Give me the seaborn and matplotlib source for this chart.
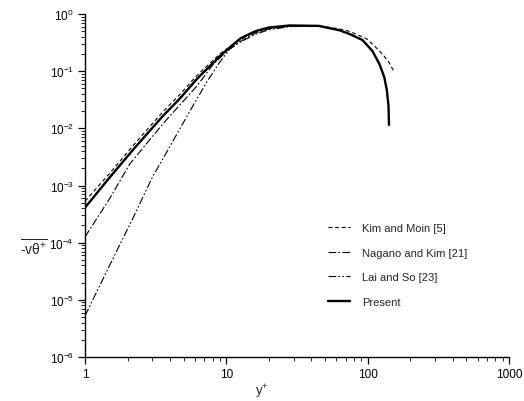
import matplotlib
matplotlib.use("Agg")
import matplotlib.pyplot as plt
import seaborn as sns
import pandas as pd
from matplotlib.ticker import LogLocator, NullFormatter, FixedLocator

# Turbulent heat flux -v'theta'+ versus wall distance y+
present_y = [1, 1.5, 2.22, 3.56, 4.68, 6.19, 9.0, 12.5, 16, 20, 28, 45, 63, 74, 92, 108, 121, 131, 137, 140.5, 141.5]
present_v = [4.1e-4, 1.4e-3, 4.4e-3, 0.0165, 0.033, 0.073, 0.184, 0.37, 0.50, 0.58, 0.63, 0.62, 0.52, 0.45,
             0.35, 0.225, 0.134, 0.079, 0.045, 0.024, 0.0115]

kim_moin_y = [1, 1.5, 2.22, 3.56, 4.68, 6.19, 9.0, 12.5, 16, 20, 28, 45, 63, 74, 98, 111, 127, 141, 154]
kim_moin_v = [5.3e-4, 1.65e-3, 5.2e-3, 0.0195, 0.039, 0.084, 0.20, 0.36, 0.48, 0.56, 0.62, 0.62, 0.55, 0.50,
              0.37, 0.28, 0.20, 0.145, 0.097]

nagano_kim_y = [1, 1.5, 2.08, 3.56, 6.19, 8.0, 10.1, 12.5, 16, 20, 28, 45, 63, 74, 92, 108, 121, 131, 137, 140.5]
nagano_kim_v = [1.26e-4, 6.0e-4, 2.4e-3, 0.012, 0.055, 0.128, 0.225, 0.33, 0.46, 0.55, 0.61, 0.62, 0.52, 0.45,
                0.35, 0.225, 0.134, 0.079, 0.045, 0.024]

lai_so_y = [1, 1.5, 2.08, 3.03, 3.8, 4.69, 5.8, 7.28, 9.0, 10.6, 12.5, 16, 20, 28, 45, 63, 74, 92, 108, 121, 131, 137]
lai_so_v = [5.25e-6, 4.1e-5, 2.1e-4, 1.47e-3, 3.9e-3, 9.8e-3, 0.0247, 0.065, 0.145, 0.245, 0.32, 0.44, 0.53, 0.60,
            0.62, 0.52, 0.45, 0.35, 0.225, 0.134, 0.079, 0.045]

series = [
    ("Kim and Moin [5]", kim_moin_y, kim_moin_v),
    ("Nagano and Kim [21]", nagano_kim_y, nagano_kim_v),
    ("Lai and So [23]", lai_so_y, lai_so_v),
    ("Present", present_y, present_v),
]
frames = [pd.DataFrame({"y+": y, "vt": v, "source": name}) for name, y, v in series]
df = pd.concat(frames, ignore_index=True)

sns.set_style("ticks")
plt.rcParams["font.family"] = ["Liberation Sans", "DejaVu Sans"]
plt.rcParams["mathtext.fontset"] = "custom"
plt.rcParams["mathtext.rm"] = "Liberation Sans"
plt.rcParams["mathtext.it"] = "Liberation Sans"
plt.rcParams["axes.unicode_minus"] = False

fig = plt.figure(figsize=(5.24, 4.02), dpi=100)
ax = fig.add_axes([85 / 524, 1 - 358 / 402, 424 / 524, 343 / 402])

styles = {
    "Kim and Moin [5]": dict(dashes=(3.5, 2.5), lw=0.8),
    "Nagano and Kim [21]": dict(dashes=(7, 2, 1.5, 2), lw=0.8),
    "Lai and So [23]": dict(dashes=(7, 2, 1.5, 2, 1.5, 2), lw=0.8),
    "Present": dict(dashes=(), lw=1.7),
}
for name, _, _ in series:
    sub = df[df["source"] == name]
    st = styles[name]
    line_ax = sns.lineplot(data=sub, x="y+", y="vt", ax=ax, color="black", lw=st["lw"],
                           estimator=None, sort=False, label=name)
    if st["dashes"]:
        line_ax.lines[-1].set_dashes(st["dashes"])

ax.set_xscale("log")
ax.set_yscale("log")
ax.set_xlim(1, 1000)
ax.set_ylim(1e-6, 1)

ax.xaxis.set_major_locator(FixedLocator([1, 10, 100, 1000]))
ax.set_xticklabels(["1", "10", "100", "1000"])
ax.xaxis.set_minor_locator(LogLocator(base=10, subs=range(2, 10), numticks=20))
ax.xaxis.set_minor_formatter(NullFormatter())
ax.yaxis.set_major_locator(FixedLocator([1e-6, 1e-5, 1e-4, 1e-3, 1e-2, 1e-1, 1]))
ax.set_yticklabels([r"$\mathregular{10^{-6}}$", r"$\mathregular{10^{-5}}$", r"$\mathregular{10^{-4}}$",
                    r"$\mathregular{10^{-3}}$", r"$\mathregular{10^{-2}}$", r"$\mathregular{10^{-1}}$",
                    r"$\mathregular{10^{0}}$"])
ax.yaxis.set_minor_locator(LogLocator(base=10, subs=range(2, 10), numticks=20))
ax.yaxis.set_minor_formatter(NullFormatter())

ax.tick_params(axis="both", which="major", direction="out", length=5, width=0.9,
               labelsize=8.5, colors="black", pad=3)
ax.tick_params(axis="both", which="minor", direction="out", length=3, width=0.7)
for side in ("top", "right"):
    ax.spines[side].set_visible(False)
for side in ("left", "bottom"):
    ax.spines[side].set_linewidth(1.0)
    ax.spines[side].set_color("black")

ax.set_xlabel(r"y$^{+}$", fontsize=9.5)
ax.set_ylabel(r"$\overline{\mathregular{\text{-}v\theta^{+}}}$", fontsize=10, rotation=0, va="center")
ax.yaxis.set_label_coords(-0.12, 0.32)
ax.xaxis.set_label_coords(0.418, -0.074)

ax.legend(loc="upper left", bbox_to_anchor=(0.573, 0.39), frameon=False, fontsize=8,
          handlelength=2.0, handletextpad=1.1, labelspacing=1.3, borderpad=0, borderaxespad=0)

fig.savefig("out.png", dpi=100)
